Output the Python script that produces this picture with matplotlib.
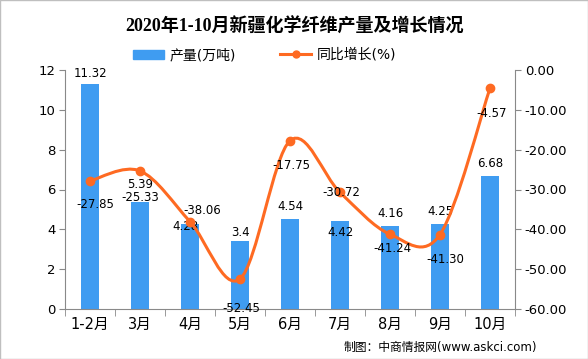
import matplotlib
matplotlib.use("Agg")
import matplotlib.pyplot as plt
from matplotlib.path import Path
from matplotlib.patches import PathPatch, Patch, Rectangle
from matplotlib.lines import Line2D
import numpy as np

plt.rcParams['font.family'] = ['DejaVu Sans', 'Noto Sans CJK SC']

categories = ['1-2月', '3月', '4月', '5月', '6月', '7月', '8月', '9月', '10月']
output = [11.32, 5.39, 4.28, 3.4, 4.54, 4.42, 4.16, 4.25, 6.68]
growth = [-27.85, -25.33, -38.06, -52.45, -17.75, -30.72, -41.24, -41.30, -4.57]
bar_labels = ['11.32', '5.39', '4.28', '3.4', '4.54', '4.42', '4.16', '4.25', '6.68']
growth_labels = ['-27.85', '-25.33', '-38.06', '-52.45', '-17.75', '-30.72', '-41.24', '-41.30', '-4.57']

# label offsets in points (dx, dy)
bar_off = [(0, 7), (0, 12), (-3, -2), (0, 6), (0, 9), (0, -8), (0, 9), (0, 9), (0, 9)]
growth_off = [(4, -17), (0, -19), (9, 8), (1, -21), (1, -18), (1, 0), (2, -10), (4, -18), (1, -18)]

BLUE = '#3f9cf1'
ORANGE = '#fe6a22'

fig = plt.figure(figsize=(5.88, 3.59), dpi=100)
ax = fig.add_axes([65/588, 1-309/359, 450/588, 239/359])
ax2 = ax.twinx()

x = np.arange(len(categories))
ax.bar(x, output, width=0.36, color=BLUE, zorder=2)
ax.set_xlim(-0.5, len(categories)-0.5)
ax.set_ylim(0, 12)
ax.set_yticks(range(0, 13, 2))
ax2.set_ylim(-60, 0)
ax2.set_yticks(range(-60, 1, 10))
ax2.set_yticklabels([f'{v:.2f}' for v in range(-60, 1, 10)])

# smooth line via Catmull-Rom converted to cubic Bezier
pts = np.column_stack([x, growth]).astype(float)
n = len(pts)
verts = [tuple(pts[0])]
codes = [Path.MOVETO]
for i in range(n-1):
    p0 = pts[i-1] if i > 0 else pts[i]
    p1 = pts[i]
    p2 = pts[i+1]
    p3 = pts[i+2] if i+2 < n else pts[i+1]
    c1 = p1 + (p2 - p0) / 6.0
    c2 = p2 - (p3 - p1) / 6.0
    verts += [tuple(c1), tuple(c2), tuple(p2)]
    codes += [Path.CURVE4]*3
ax2.add_patch(PathPatch(Path(verts, codes), fill=False, edgecolor=ORANGE, lw=2.2, zorder=3))
ax2.plot(x, growth, linestyle='none', marker='o', ms=6, color=ORANGE, zorder=4)

for i in range(n):
    ax.annotate(bar_labels[i], (x[i], output[i]), xytext=bar_off[i], textcoords='offset points',
                ha='center', va='center', fontsize=8.5, zorder=5)
    ax2.annotate(growth_labels[i], (x[i], growth[i]), xytext=growth_off[i], textcoords='offset points',
                 ha='center', va='center', fontsize=8.5, zorder=5)

for a in (ax, ax2):
    for s in a.spines.values():
        s.set_color('#898989')
    a.spines['top'].set_visible(False)
ax.spines['right'].set_visible(False)
ax2.spines['left'].set_visible(False)
ax2.spines['bottom'].set_visible(False)
ax.tick_params(axis='y', length=4, color='#898989', labelsize=9.5, pad=3)
ax2.tick_params(axis='y', length=4, color='#898989', labelsize=9.5, pad=3)

ax.set_xticks(x)
ax.set_xticklabels(categories, fontsize=10.5)
ax.tick_params(axis='x', length=0, pad=6)
ax.set_xticks(np.arange(-0.5, len(categories), 1), minor=True)
ax.tick_params(axis='x', which='minor', length=5, color='#898989', direction='out')

fig.text(0.5, 1-27/359, '2020年1-10月新疆化学纤维产量及增长情况', ha='center', va='center',
         fontsize=13, fontweight='bold', family=['Liberation Serif', 'Noto Sans CJK SC'])

handles = [Patch(color=BLUE), Line2D([0], [0], color=ORANGE, lw=2.2, marker='o', ms=5)]
fig.legend(handles, ['产量(万吨)', '同比增长(%)'], loc='center', bbox_to_anchor=(0.45, 1-55/359),
           ncol=2, frameon=False, fontsize=10, handlelength=2.2, handleheight=0.6,
           columnspacing=3.2, handletextpad=0.4)

fig.text(537/588, 1-347/359, '制图：中商情报网(www.askci.com)', ha='right', va='center', fontsize=8.5)

fig.patches.append(Rectangle((0, 0), 1, 1, transform=fig.transFigure, fill=False,
                             edgecolor='#bfbfbf', lw=1))

fig.savefig('out.png', dpi=100)
